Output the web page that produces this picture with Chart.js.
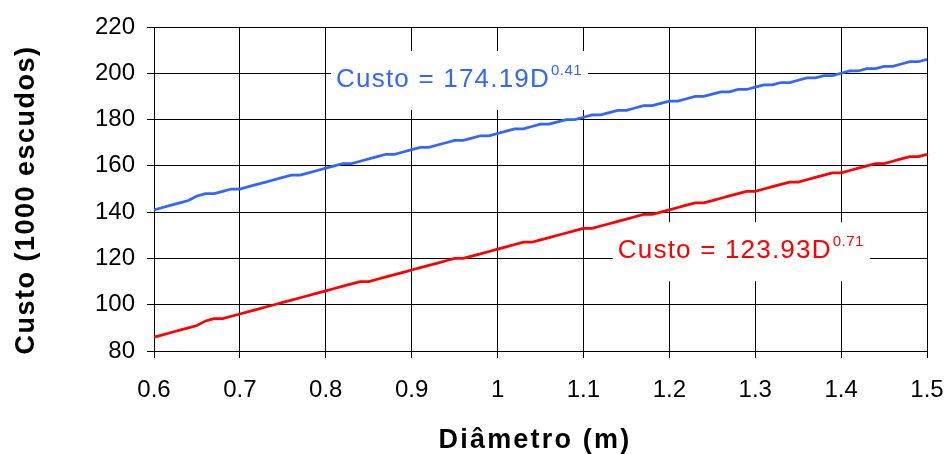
<!DOCTYPE html>
<html>
<head>
<meta charset="utf-8">
<script src="https://cdn.jsdelivr.net/npm/chart.js@4"></script>
<style>
  html, body { margin: 0; padding: 0; background: #fff; }
  canvas { display: block; }
</style>
</head>
<body>
<canvas id="chart" width="949" height="454"></canvas>
<script>
// Diameter (m) sampled every 0.01
const diametros = [
  0.60, 0.61, 0.62, 0.63, 0.64, 0.65, 0.66, 0.67, 0.68, 0.69,
  0.70, 0.71, 0.72, 0.73, 0.74, 0.75, 0.76, 0.77, 0.78, 0.79,
  0.80, 0.81, 0.82, 0.83, 0.84, 0.85, 0.86, 0.87, 0.88, 0.89,
  0.90, 0.91, 0.92, 0.93, 0.94, 0.95, 0.96, 0.97, 0.98, 0.99,
  1.00, 1.01, 1.02, 1.03, 1.04, 1.05, 1.06, 1.07, 1.08, 1.09,
  1.10, 1.11, 1.12, 1.13, 1.14, 1.15, 1.16, 1.17, 1.18, 1.19,
  1.20, 1.21, 1.22, 1.23, 1.24, 1.25, 1.26, 1.27, 1.28, 1.29,
  1.30, 1.31, 1.32, 1.33, 1.34, 1.35, 1.36, 1.37, 1.38, 1.39,
  1.40, 1.41, 1.42, 1.43, 1.44, 1.45, 1.46, 1.47, 1.48, 1.49,
  1.50
];

// Custo (1000 escudos), upper curve
const custoAzul = [
  141, 142, 143, 144, 145, 147, 148, 148, 149, 150,
  150, 151, 152, 153, 154, 155, 156, 156, 157, 158,
  159, 160, 161, 161, 162, 163, 164, 165, 165, 166,
  167, 168, 168, 169, 170, 171, 171, 172, 173, 173,
  174, 175, 176, 176, 177, 178, 178, 179, 180, 180,
  181, 182, 182, 183, 184, 184, 185, 186, 186, 187,
  188, 188, 189, 190, 190, 191, 192, 192, 193, 193,
  194, 195, 195, 196, 196, 197, 198, 198, 199, 199,
  200, 201, 201, 202, 202, 203, 203, 204, 205, 205,
  206
];

// Custo (1000 escudos), lower curve
const custoVermelho = [
  86, 87, 88, 89, 90, 91, 93, 94, 94, 95,
  96, 97, 98, 99, 100, 101, 102, 103, 104, 105,
  106, 107, 108, 109, 110, 110, 111, 112, 113, 114,
  115, 116, 117, 118, 119, 120, 120, 121, 122, 123,
  124, 125, 126, 127, 127, 128, 129, 130, 131, 132,
  133, 133, 134, 135, 136, 137, 138, 139, 139, 140,
  141, 142, 143, 144, 144, 145, 146, 147, 148, 149,
  149, 150, 151, 152, 153, 153, 154, 155, 156, 157,
  157, 158, 159, 160, 161, 161, 162, 163, 164, 164,
  165
];

const xTickLabels = ['0.6', '0.7', '0.8', '0.9', '1', '1.1', '1.2', '1.3', '1.4', '1.5'];
const yTickLabels = ['80', '100', '120', '140', '160', '180', '200', '220'];

const AZUL = '#3366FF';
const VERMELHO = '#FF0000';
const FONT = 'Arial, "Liberation Sans", sans-serif';

// equation labels, anchored in data units (left edge of text, baseline)
const equacoes = [
  { x: 0.812, y: 194.1, texto: 'Custo = 174.19D', expoente: '0.41', cor: AZUL },
  { x: 1.140, y: 120.1, texto: 'Custo = 123.93D', expoente: '0.71', cor: VERMELHO }
];

const toPoints = (ys) => ys.map((y, i) => ({ x: diametros[i], y }));

// Draws the trend-line equations in white boxes and the axis titles
const labelsPlugin = {
  id: 'labels',
  beforeDatasetsDraw(chart) {
    const { ctx, scales } = chart;
    ctx.save();
    equacoes.forEach(eq => {
      const px = scales.x.getPixelForValue(eq.x);
      const py = scales.y.getPixelForValue(eq.y);

      ctx.font = '26px ' + FONT;
      ctx.letterSpacing = '1.2px';
      const w1 = ctx.measureText(eq.texto).width;
      ctx.font = '15px ' + FONT;
      ctx.letterSpacing = '0.5px';
      const w2 = ctx.measureText(eq.expoente).width;

      ctx.fillStyle = '#fff';
      ctx.fillRect(px - 5, py - 36, w1 + w2 + 12, 59);

      ctx.fillStyle = eq.cor;
      ctx.textAlign = 'left';
      ctx.textBaseline = 'alphabetic';
      ctx.font = '26px ' + FONT;
      ctx.letterSpacing = '1.2px';
      ctx.fillText(eq.texto, px, py);
      ctx.font = '15px ' + FONT;
      ctx.letterSpacing = '0.5px';
      ctx.fillText(eq.expoente, px + w1 + 1, py - 12);
    });
    ctx.restore();
  },
  afterDraw(chart) {
    const { ctx } = chart;
    ctx.save();
    ctx.fillStyle = '#000';
    ctx.font = 'bold 27px ' + FONT;
    ctx.textAlign = 'center';
    ctx.textBaseline = 'alphabetic';

    ctx.letterSpacing = '2.2px';
    ctx.fillText('Diâmetro (m)', 535, 448);

    ctx.letterSpacing = '1.5px';
    ctx.translate(34, 200);
    ctx.rotate(-Math.PI / 2);
    ctx.fillText('Custo (1000 escudos)', 0, 0);
    ctx.restore();
  }
};

const gridOpts = {
  color: '#000',
  lineWidth: 1,
  tickLength: 7,
  drawTicks: true
};

new Chart(document.getElementById('chart'), {
  type: 'line',
  data: {
    datasets: [
      {
        data: toPoints(custoAzul),
        borderColor: AZUL,
        borderWidth: 2.75,
        pointRadius: 0,
        tension: 0,
        fill: false
      },
      {
        data: toPoints(custoVermelho),
        borderColor: VERMELHO,
        borderWidth: 2.75,
        pointRadius: 0,
        tension: 0,
        fill: false
      }
    ]
  },
  options: {
    responsive: false,
    devicePixelRatio: 1,
    animation: false,
    layout: { padding: { top: 27, right: 22, bottom: 0, left: 0 } },
    plugins: {
      legend: { display: false },
      tooltip: { enabled: false }
    },
    scales: {
      x: {
        type: 'linear',
        min: 0.6,
        max: 1.5,
        grid: gridOpts,
        border: { display: true, color: '#000', width: 1 },
        ticks: {
          stepSize: 0.1,
          color: '#000',
          font: { family: FONT, size: 24 },
          padding: 18,
          maxRotation: 0,
          autoSkip: false,
          callback: (v, i) => xTickLabels[i]
        },
        afterFit: (s) => {
          s.height = 103;
          s.paddingLeft = 0;
          s.paddingRight = 0;
        }
      },
      y: {
        min: 80,
        max: 220,
        grid: gridOpts,
        border: { display: true, color: '#000', width: 1 },
        ticks: {
          stepSize: 20,
          color: '#000',
          font: { family: FONT, size: 24 },
          padding: 12,
          callback: (v, i) => yTickLabels[i]
        },
        afterFit: (s) => {
          s.width = 154;
          s.paddingTop = 0;
          s.paddingBottom = 0;
        }
      }
    }
  },
  plugins: [labelsPlugin]
});
</script>
</body>
</html>
